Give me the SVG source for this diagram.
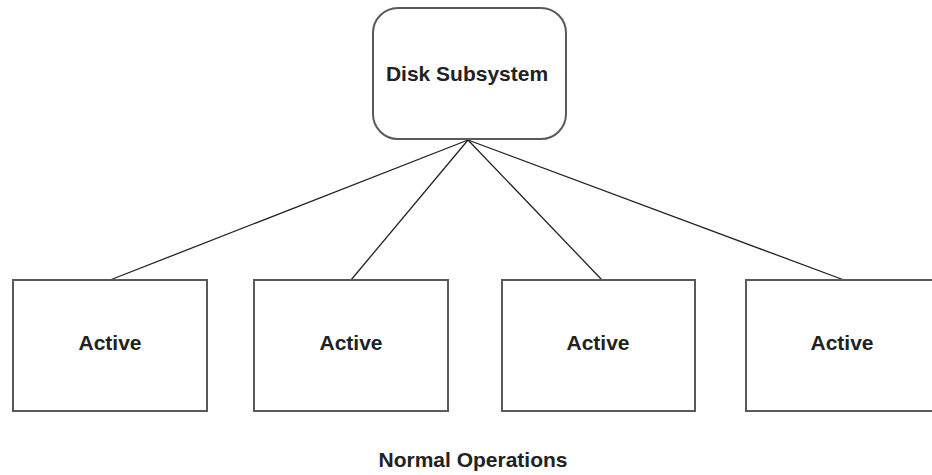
<svg xmlns="http://www.w3.org/2000/svg" width="932" height="475" viewBox="0 0 932 475">
<style>
.box{fill:#fff;stroke:#5a5a5a;stroke-width:2}
.lbl{font-family:"Liberation Sans",Arial,sans-serif;font-weight:bold;font-size:21px;fill:#222;text-anchor:middle}
.conn{stroke:#222;stroke-width:1.3;fill:none}
</style>
<rect width="932" height="475" fill="#fff"/>
<g id="connectors">
<line class="conn" x1="468" y1="140" x2="110" y2="280"/>
<line class="conn" x1="468" y1="140" x2="351" y2="280"/>
<line class="conn" x1="468" y1="140" x2="602" y2="280"/>
<line class="conn" x1="468" y1="140" x2="844" y2="280"/>
</g>
<g id="disk">
<rect class="box" x="373" y="8" width="193" height="131" rx="25" ry="25"/>
<text class="lbl" x="467" y="81">Disk Subsystem</text>
</g>
<g id="active1">
<rect class="box" x="13" y="280" width="194" height="131"/>
<text class="lbl" x="110" y="350">Active</text>
</g>
<g id="active2">
<rect class="box" x="254" y="280" width="194" height="131"/>
<text class="lbl" x="351" y="350">Active</text>
</g>
<g id="active3">
<rect class="box" x="502" y="280" width="193" height="131"/>
<text class="lbl" x="598" y="350">Active</text>
</g>
<g id="active4">
<rect class="box" x="746" y="280" width="194" height="131"/>
<text class="lbl" x="842" y="350">Active</text>
</g>
<text class="lbl" x="473" y="467">Normal Operations</text>
</svg>
